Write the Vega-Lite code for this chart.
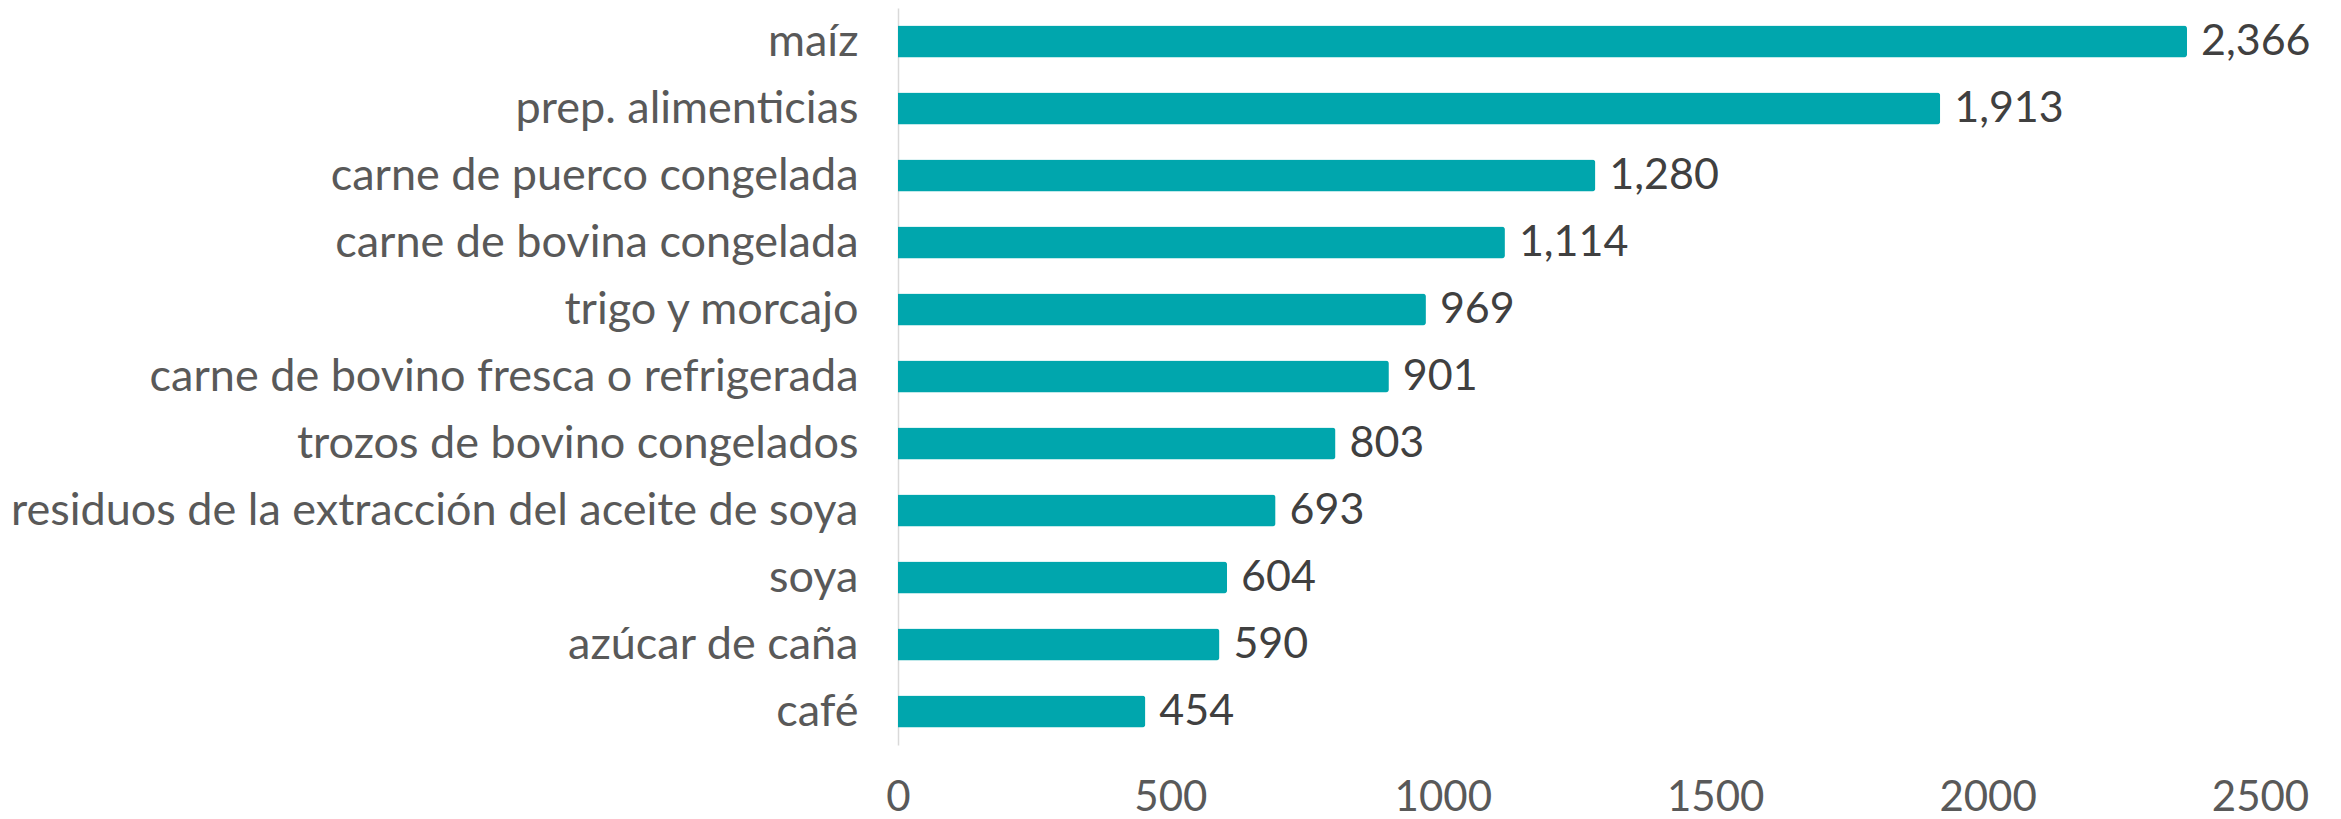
{
  "$schema": "https://vega.github.io/schema/vega-lite/v6.json",
  "autosize": "none",
  "padding": {"left": 898, "top": 8, "right": 81, "bottom": 74},
  "width": 1362,
  "height": 737,
  "background": "white",
  "config": {"view": {"stroke": null}, "font": "Lato"},
  "data": {"values": [
    {"producto": "maíz", "valor": 2366},
    {"producto": "prep. alimenticias", "valor": 1913},
    {"producto": "carne de puerco congelada", "valor": 1280},
    {"producto": "carne de bovina congelada", "valor": 1114},
    {"producto": "trigo y morcajo", "valor": 969},
    {"producto": "carne de bovino fresca o refrigerada", "valor": 901},
    {"producto": "trozos de bovino congelados", "valor": 803},
    {"producto": "residuos de la extracción del aceite de soya", "valor": 693},
    {"producto": "soya", "valor": 604},
    {"producto": "azúcar de caña", "valor": 590},
    {"producto": "café", "valor": 454}
  ]},
  "encoding": {
    "y": {
      "field": "producto", "type": "nominal", "sort": null,
      "scale": {"paddingInner": 0.52, "paddingOuter": 0.26},
      "axis": {"title": null, "ticks": false, "tickSize": 0, "labelPadding": 40, "labelLimit": 0,
               "labelFontSize": 45, "labelColor": "#595959", "domainColor": "#d9d9d9",
               "domainWidth": 1.5, "grid": false}
    },
    "x": {
      "field": "valor", "type": "quantitative",
      "scale": {"domain": [0, 2500], "nice": false},
      "axis": {"title": null, "values": [0, 500, 1000, 1500, 2000, 2500], "format": "d", "ticks": false,
               "tickSize": 0, "domain": false, "grid": false, "labelPadding": 32,
               "labelFontSize": 42, "labelColor": "#595959", "labelFlush": false}
    }
  },
  "layer": [
    {"mark": {"type": "bar", "color": "#00A6AD", "cornerRadiusEnd": 3}},
    {"mark": {"type": "text", "align": "left", "baseline": "middle", "dx": 14,
              "fontSize": 43, "color": "#404040"},
     "encoding": {"text": {"field": "valor", "type": "quantitative", "format": ","}}}
  ]
}
